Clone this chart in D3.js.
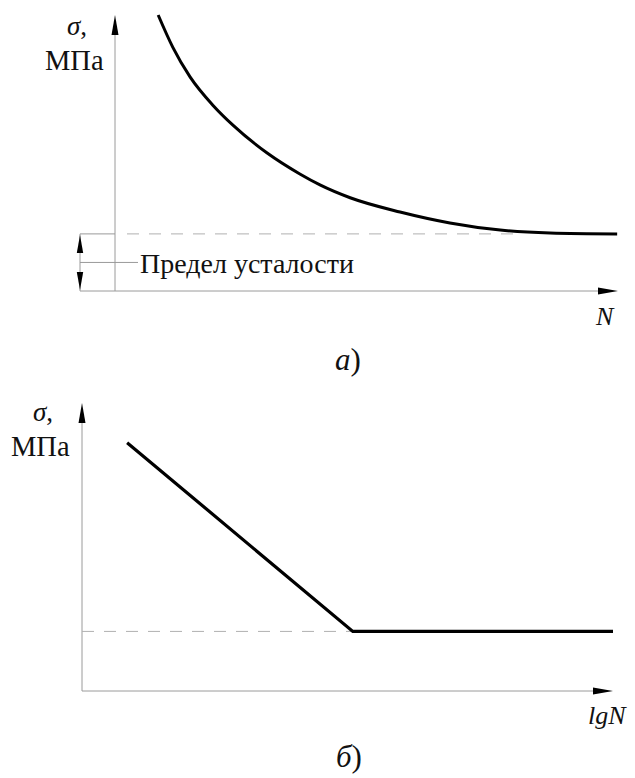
<!DOCTYPE html>
<html><head><meta charset="utf-8">
<script src="https://cdn.jsdelivr.net/npm/d3@7"></script></head>
<body style="margin:0">
<svg id="s" width="635" height="778"></svg>
<script>
// Panel а: stress σ (MPa) versus number of cycles N (Wöhler curve)
const cyclesN    = [1.03, 1.38, 1.79, 2.34, 2.82, 3.63, 4.41, 4.89, 5.61, 6.80, 7.99, 9.19, 10.38, 11.98];
const stressA    = [290, 256, 225, 195, 174, 145, 123, 111.5, 98, 83, 71.5, 64, 61, 60];
const enduranceA = 60;          // fatigue (endurance) limit, MPa
const domainNA   = [0, 12];
const domainSA   = [0, 290];

// Panel б: the same diagram in log coordinates — sloped branch and horizontal plateau
const lgN        = [0.85, 5.1, 10.0];
const stressB    = [250, 60, 60];
const enduranceB = 60;
const domainNB   = [0, 10];
const domainSB   = [0, 290];

const labels = {
  sigma: "σ",
  unit: "МПа",
  limit: "Предел усталости",
  axisA: "N",
  axisB: "lgN",
  captionA: "а",
  captionB: "б"
};

const svg = d3.select("#s");
const AXIS = "#9a9a9a";
const DASH = "#b0b0b0";

// all labels sit directly on the root svg
function txt(x, y, size) {
  return svg.append("text").attr("x", x).attr("y", y)
    .attr("font-size", size)
    .attr("font-family", "Liberation Serif")
    .style("font-family", "Liberation Serif", "important")
    .attr("fill", "#111");
}

function arrow(g, x, y, dir, len, half) {
  // filled arrowhead with its tip at (x, y)
  let pts;
  if (dir === "up")    pts = [[x, y], [x - half, y + len], [x + half, y + len]];
  if (dir === "down")  pts = [[x, y], [x - half, y - len], [x + half, y - len]];
  if (dir === "right") pts = [[x, y], [x - len, y - half], [x - len, y + half]];
  g.append("path")
    .attr("d", "M" + pts.map(p => p.join(",")).join("L") + "Z")
    .attr("fill", "#000");
}

function line(g, x1, y1, x2, y2, color, dash) {
  const l = g.append("line")
    .attr("x1", x1).attr("y1", y1).attr("x2", x2).attr("y2", y2)
    .attr("stroke", color).attr("stroke-width", 1);
  if (dash) l.attr("stroke-dasharray", dash);
  return l;
}

function sigmaLabel(x, y1, y2, ux) {
  const t = txt(x, y1, 27);
  t.append("tspan").attr("font-style", "italic").text(labels.sigma);
  t.append("tspan").text(",");
  txt(ux, y2, 28.5).text(labels.unit);
}

function caption(x, y, letter) {
  const t = txt(x, y, 31);
  t.append("tspan").attr("font-style", "italic").text(letter);
  t.append("tspan").text(")");
}

// ---------- Panel а ----------
{
  const g = svg.append("g");
  const x = d3.scaleLinear().domain(domainNA).range([115, 618]);
  const y = d3.scaleLinear().domain(domainSA).range([291, 15]);
  const x0 = x(0), y0 = y(0);
  const dimX = 80;                       // dimension line for the fatigue limit
  const yLim = y(enduranceA);

  // axes
  line(g, x0, y0, x0, y(domainSA[1]) + 10, AXIS);
  arrow(g, x0, y(domainSA[1]), "up", 20, 3.5);
  line(g, dimX, y0, x(domainNA[1]) - 10, y0, AXIS);
  arrow(g, x(domainNA[1]), y0, "right", 20, 3.5);

  // fatigue-limit level
  line(g, dimX, yLim, x0, yLim, AXIS);
  line(g, x0 + 12, yLim, x(9.5), yLim, DASH, "12,10");

  // dimension with arrows at both ends and leader to the label
  line(g, dimX, yLim, dimX, y0, AXIS);
  arrow(g, dimX, yLim + 1, "up", 18, 3.2);
  arrow(g, dimX, y0 - 1, "down", 18, 3.2);
  const yMid = (yLim + y0) / 2;
  line(g, dimX, yMid, 138, yMid, AXIS);
  txt(140, 273, 28).text(labels.limit);

  // curve
  const pts = cyclesN.map((n, i) => [x(n), y(stressA[i])]);
  g.append("path")
    .attr("d", d3.line().curve(d3.curveMonotoneX)(pts))
    .attr("fill", "none").attr("stroke", "#000").attr("stroke-width", 3);

  sigmaLabel(67, 35, 70, 45);
  txt(596, 325, 26).attr("font-style", "italic").text(labels.axisA);
  caption(335, 370, labels.captionA);
}

// ---------- Panel б ----------
{
  const g = svg.append("g");
  const x = d3.scaleLinear().domain(domainNB).range([82, 613]);
  const y = d3.scaleLinear().domain(domainSB).range([691, 403]);
  const x0 = x(0), y0 = y(0);
  const yLim = y(enduranceB);

  line(g, x0, y0, x0, y(domainSB[1]) + 10, AXIS);
  arrow(g, x0, y(domainSB[1]), "up", 20, 3.5);
  line(g, x0, y0, x(domainNB[1]) - 10, y0, AXIS);
  arrow(g, x(domainNB[1]), y0, "right", 20, 3.5);

  line(g, x0, yLim, x(lgN[1]), yLim, DASH, "12,10");

  const pts = lgN.map((n, i) => [x(n), y(stressB[i])]);
  g.append("path")
    .attr("d", d3.line()(pts))
    .attr("fill", "none").attr("stroke", "#000").attr("stroke-width", 3.2)
    .attr("stroke-linejoin", "miter");

  sigmaLabel(33, 421, 456, 11);
  txt(588, 724, 26).attr("font-style", "italic").text(labels.axisB);
  caption(336, 767, labels.captionB);
}
</script>
</body>
</html>
